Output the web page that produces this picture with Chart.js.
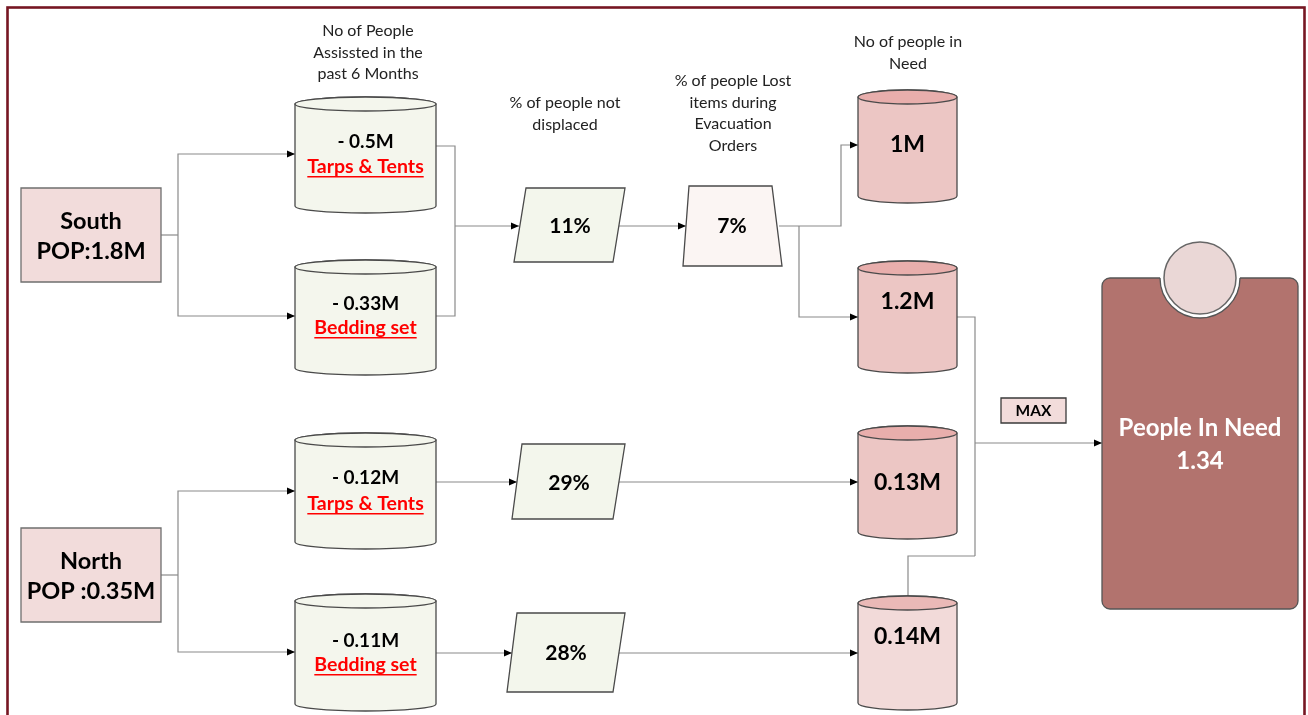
<!DOCTYPE html>
<html>
<head>
<meta charset="utf-8">
<script src="https://cdn.jsdelivr.net/npm/chart.js@4/dist/chart.umd.min.js"></script>
<style>
  html, body { margin: 0; padding: 0; background: #fff; }
  #wrap { width: 1308px; height: 715px; position: relative; }
</style>
</head>
<body>
<div id="wrap"><canvas id="flow"></canvas></div>
<script>
// values
const regionNames = ['South', 'North'];
const regionPop = ['POP:1.8M', 'POP :0.35M'];
const assistedValues = ['- 0.5M', '- 0.33M', '- 0.12M', '- 0.11M'];
const assistedItems = ['Tarps & Tents', 'Bedding set', 'Tarps & Tents', 'Bedding set'];
const notDisplaced = ['11%', '29%', '28%'];
const lostItems = ['7%'];
const peopleInNeed = ['1M', '1.2M', '0.13M', '0.14M'];
const totalLabel = ['People In Need', '1.34'];
const mergeLabel = 'MAX';
const stageTitles = [
  ['No of People', 'Assissted in the', 'past 6 Months'],
  ['% of people not', 'displaced'],
  ['% of people Lost', 'items during', 'Evacuation', 'Orders'],
  ['No of people in', 'Need']
];

// layout (diagram units = pixels of the 1308x715 frame)
const regionBoxes = [[21, 188, 161, 282], [21, 528, 161, 622]];
const assistCyl = [[295, 97, 436, 213], [295, 260, 436, 375], [295, 433, 436, 549], [295, 594, 436, 711]];
const assistTextY = [[142, 167], [304, 328], [478, 504], [641, 665]];
const paraShapes = [
  [[526, 188], [625, 188], [613, 262], [514, 262]],
  [[522, 444], [625, 444], [613, 519], [512, 519]],
  [[517, 613], [625, 613], [613, 692], [507, 692]]
];
const paraText = [[570, 226], [569, 483], [566, 653]];
const trapShape = [[689, 186], [772, 186], [782, 266], [683, 266]];
const needCyl = [[858, 90, 957, 203], [858, 261, 957, 373], [858, 426, 957, 539], [858, 596, 957, 710]];
const needTextY = [145, 302, 483, 637];
const needFill = ['#ecc6c4', '#ecc6c4', '#ecc6c4', '#f2dad9'];
const titlePos = [[368, 31], [565, 103], [733, 81], [908, 42]];
const connectors = [
  [[161, 235], [178, 235]],
  [[178, 235], [178, 154], [295, 154], 1],
  [[178, 235], [178, 316], [295, 316], 1],
  [[161, 575], [178, 575]],
  [[178, 575], [178, 491], [295, 491], 1],
  [[178, 575], [178, 652], [295, 652], 1],
  [[436, 146], [455, 146], [455, 226]],
  [[436, 316], [455, 316], [455, 226]],
  [[455, 226], [519, 226], 1],
  [[619, 226], [686, 226], 1],
  [[779, 226], [841, 226], [841, 145], [858, 145], 1],
  [[799, 226], [799, 317], [858, 317], 1],
  [[436, 482], [517, 482], 1],
  [[619, 482], [858, 482], 1],
  [[436, 653], [512, 653], 1],
  [[619, 653], [858, 653], 1],
  [[957, 317], [975, 317], [975, 556]],
  [[908, 596], [908, 556], [975, 556]],
  [[975, 443], [1102, 443], 1]
];

const FONT = 'Lato, "Open Sans", sans-serif';

const flowPlugin = {
  id: 'flow',
  afterDatasetsDraw(chart) {
    const ctx = chart.ctx;
    const xs = chart.scales.x, ys = chart.scales.y;
    const X = v => xs.getPixelForValue(v);
    const Y = v => ys.getPixelForValue(v);

    function text(str, x, y, size, bold, color) {
      ctx.font = (bold ? 'bold ' : '') + size + 'px ' + FONT;
      ctx.fillStyle = color;
      ctx.textAlign = 'center';
      ctx.textBaseline = 'middle';
      ctx.fillText(str, X(x), Y(y));
    }
    function underlined(str, x, y, size, color) {
      text(str, x, y, size, true, color);
      const w = ctx.measureText(str).width;
      ctx.strokeStyle = color;
      ctx.lineWidth = 1.5;
      ctx.beginPath();
      ctx.moveTo(X(x) - w / 2, Y(y) + size * 0.5);
      ctx.lineTo(X(x) + w / 2, Y(y) + size * 0.5);
      ctx.stroke();
    }
    function poly(pts, fill, stroke) {
      ctx.beginPath();
      pts.forEach((p, i) => i ? ctx.lineTo(X(p[0]), Y(p[1])) : ctx.moveTo(X(p[0]), Y(p[1])));
      ctx.closePath();
      ctx.fillStyle = fill; ctx.fill();
      ctx.strokeStyle = stroke; ctx.lineWidth = 1.3; ctx.stroke();
    }
    function cylinder(b, fill, topFill, stroke) {
      const x1 = X(b[0]), y1 = Y(b[1]), x2 = X(b[2]), y2 = Y(b[3]);
      const cx = (x1 + x2) / 2, rx = (x2 - x1) / 2, ry = 7;
      ctx.beginPath();
      ctx.moveTo(x1, y1 + ry);
      ctx.lineTo(x1, y2 - ry);
      ctx.ellipse(cx, y2 - ry, rx, ry, 0, Math.PI, 0, true);
      ctx.lineTo(x2, y1 + ry);
      ctx.ellipse(cx, y1 + ry, rx, ry, 0, 0, -Math.PI, true);
      ctx.closePath();
      ctx.fillStyle = fill; ctx.fill();
      ctx.strokeStyle = stroke; ctx.lineWidth = 1.3; ctx.stroke();
      ctx.beginPath();
      ctx.ellipse(cx, y1 + ry, rx, ry, 0, 0, Math.PI * 2);
      ctx.fillStyle = topFill; ctx.fill(); ctx.stroke();
    }

    // frame
    ctx.strokeStyle = '#761622';
    ctx.lineWidth = 2.6;
    ctx.strokeRect(X(7.5), Y(7.5), X(1304.5) - X(7.5), Y(740) - Y(7.5));

    // connectors
    connectors.forEach(c => {
      const arrow = typeof c[c.length - 1] === 'number';
      const pts = arrow ? c.slice(0, -1) : c;
      ctx.strokeStyle = '#8a8a8a';
      ctx.lineWidth = 1.2;
      ctx.beginPath();
      pts.forEach((p, i) => i ? ctx.lineTo(X(p[0]), Y(p[1])) : ctx.moveTo(X(p[0]), Y(p[1])));
      ctx.stroke();
      if (arrow) {
        const a = pts[pts.length - 1], b = pts[pts.length - 2];
        const ex = X(a[0]), ey = Y(a[1]);
        const ang = Math.atan2(ey - Y(b[1]), ex - X(b[0]));
        ctx.fillStyle = '#000';
        ctx.beginPath();
        ctx.moveTo(ex, ey);
        ctx.lineTo(ex - 8 * Math.cos(ang) + 3.5 * Math.sin(ang), ey - 8 * Math.sin(ang) - 3.5 * Math.cos(ang));
        ctx.lineTo(ex - 8 * Math.cos(ang) - 3.5 * Math.sin(ang), ey - 8 * Math.sin(ang) + 3.5 * Math.cos(ang));
        ctx.closePath();
        ctx.fill();
      }
    });

    // stage titles
    stageTitles.forEach((lines, i) => {
      lines.forEach((l, j) => text(l, titlePos[i][0], titlePos[i][1] + j * 21.5, 16, false, '#222'));
    });

    // regions
    regionBoxes.forEach((b, i) => {
      poly([[b[0], b[1]], [b[2], b[1]], [b[2], b[3]], [b[0], b[3]]], '#f2dcdb', '#6f6f6f');
      const cx = (b[0] + b[2]) / 2, cy = (b[1] + b[3]) / 2;
      text(regionNames[i], cx, cy - 14, 23.5, true, '#000');
      text(regionPop[i], cx, cy + 16, 23.5, true, '#000');
    });

    // assisted cylinders
    assistCyl.forEach((b, i) => {
      cylinder(b, '#f4f6ed', '#f4f6ed', '#4a4a4a');
      const cx = (b[0] + b[2]) / 2;
      text(assistedValues[i], cx, assistTextY[i][0], 19, true, '#000');
      underlined(assistedItems[i], cx, assistTextY[i][1], 19.5, '#ff0000');
    });

    // not displaced parallelograms
    paraShapes.forEach((s, i) => {
      poly(s, '#f3f6ec', '#4a4a4a');
      text(notDisplaced[i], paraText[i][0], paraText[i][1], 21, true, '#000');
    });

    // lost items trapezoid
    poly(trapShape, '#fbf5f3', '#4a4a4a');
    text(lostItems[0], 732, 226, 21, true, '#000');

    // people in need cylinders
    needCyl.forEach((b, i) => {
      cylinder(b, needFill[i], i < 3 ? '#e8aeac' : '#eab9b7', '#4a4a4a');
      text(peopleInNeed[i], (b[0] + b[2]) / 2, needTextY[i], 23, true, '#000');
    });

    // MAX tag
    poly([[1001, 398], [1066, 398], [1066, 423], [1001, 423]], '#f2dcdb', '#3a3a3a');
    text(mergeLabel, 1033.5, 411, 15.5, true, '#000');

    // total box
    const bx1 = X(1102), by1 = Y(278), bx2 = X(1298), by2 = Y(609);
    ctx.beginPath();
    ctx.roundRect(bx1, by1, bx2 - bx1, by2 - by1, 8);
    ctx.fillStyle = '#b2736e'; ctx.fill();
    ctx.strokeStyle = '#555'; ctx.lineWidth = 1.3; ctx.stroke();
    const ccx = X(1200), ccy = Y(278);
    ctx.beginPath();
    ctx.arc(ccx, ccy, 40, 0, Math.PI * 2);
    ctx.fillStyle = '#fff'; ctx.fill();
    ctx.beginPath();
    ctx.arc(ccx, ccy, 40, 0, Math.PI);
    ctx.strokeStyle = '#555'; ctx.stroke();
    ctx.beginPath();
    ctx.arc(ccx, ccy, 36, 0, Math.PI * 2);
    ctx.fillStyle = '#ead7d6'; ctx.fill();
    ctx.strokeStyle = '#666'; ctx.lineWidth = 1.5; ctx.stroke();
    text(totalLabel[0], 1200, 428, 24, true, '#fff');
    text(totalLabel[1], 1200, 461, 24, true, '#fff');
  }
};

new Chart(document.getElementById('flow'), {
  type: 'scatter',
  data: { datasets: [{ data: [], pointRadius: 0 }] },
  options: {
    responsive: true,
    maintainAspectRatio: false,
    animation: false,
    layout: { padding: 0 },
    plugins: { legend: { display: false }, tooltip: { enabled: false } },
    scales: {
      x: { type: 'linear', min: 0, max: 1308, display: false },
      y: { type: 'linear', min: 0, max: 715, reverse: true, display: false }
    }
  },
  plugins: [flowPlugin]
});
</script>
</body>
</html>
